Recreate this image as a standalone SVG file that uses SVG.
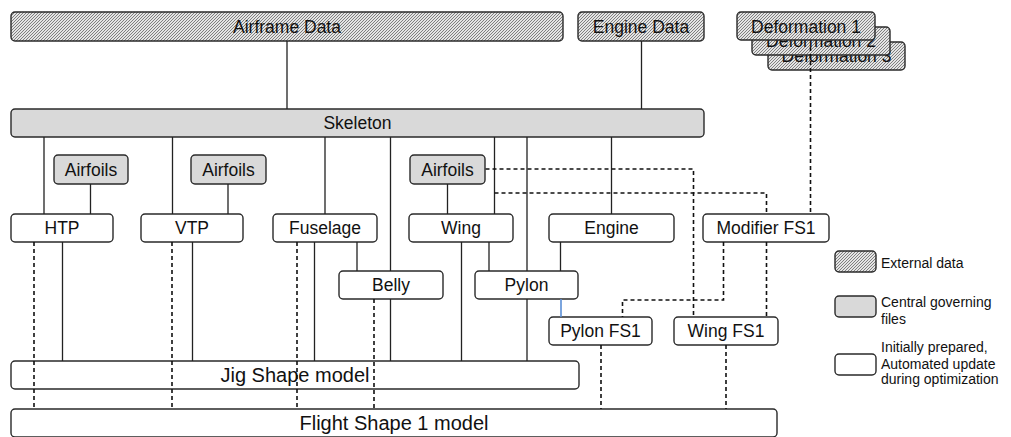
<svg xmlns="http://www.w3.org/2000/svg" width="1011" height="437" viewBox="0 0 1011 437">
<defs>
<pattern id="hatch" patternUnits="userSpaceOnUse" width="3" height="3">
<rect width="3" height="3" fill="#e4e4e4"/>
<path d="M-1,1 L1,-1 M0,3 L3,0 M2,4 L4,2" stroke="#666" stroke-width="0.8"/>
</pattern>
<style>
.box{stroke:#2a2a2a;stroke-width:1.4}
.ext{fill:url(#hatch)}
.gov{fill:#d9d9d9}
.std{fill:#fff}
text{font-family:"Liberation Sans",Arial,sans-serif;font-size:17.5px;fill:#111;text-anchor:middle}
.big{font-size:20px}
.leg{font-size:14px;text-anchor:start}
.ln{fill:none;stroke:#222;stroke-width:1.3}
.dash{fill:none;stroke:#111;stroke-width:1.6;stroke-dasharray:4,3}
.blue{fill:none;stroke:#5b8fd6;stroke-width:1.6}
</style>
</defs>
<g id="airframe-data"><rect class="box ext" x="11" y="12" width="552" height="29" rx="4"/><text x="287" y="32.5">Airframe Data</text></g>
<g id="engine-data"><rect class="box ext" x="578" y="12" width="126" height="29" rx="4"/><text x="641" y="32.5">Engine Data</text></g>
<g id="deformation-3"><rect class="box ext" x="768" y="42" width="137" height="28" rx="4"/><text x="836.5" y="62">Deformation 3</text></g>
<g id="deformation-2"><rect class="box ext" x="752" y="27" width="138" height="28" rx="4"/><text x="821" y="47">Deformation 2</text></g>
<g id="deformation-1"><rect class="box ext" x="737" y="12" width="138" height="28" rx="4"/><text x="806" y="32.5">Deformation 1</text></g>
<g id="skeleton"><rect class="box gov" x="11" y="109" width="693" height="28" rx="4"/><text x="357.5" y="129">Skeleton</text></g>
<g id="airfoils-htp"><rect class="box gov" x="54" y="155" width="74" height="29" rx="4"/><text x="91" y="175.5">Airfoils</text></g>
<g id="airfoils-vtp"><rect class="box gov" x="191" y="155" width="75" height="29" rx="4"/><text x="228.5" y="175.5">Airfoils</text></g>
<g id="airfoils-wing"><rect class="box gov" x="410" y="155" width="75" height="29" rx="4"/><text x="447.5" y="175.5">Airfoils</text></g>
<g id="htp"><rect class="box std" x="11" y="214" width="102" height="28" rx="4"/><text x="62" y="234.3">HTP</text></g>
<g id="vtp"><rect class="box std" x="141" y="214" width="102" height="28" rx="4"/><text x="192" y="234.3">VTP</text></g>
<g id="fuselage"><rect class="box std" x="273" y="214" width="104" height="28" rx="4"/><text x="325" y="234.3">Fuselage</text></g>
<g id="wing"><rect class="box std" x="409" y="214" width="104" height="28" rx="4"/><text x="461" y="234.3">Wing</text></g>
<g id="engine"><rect class="box std" x="549" y="214" width="125" height="28" rx="4"/><text x="611.5" y="234.3">Engine</text></g>
<g id="modifier-fs1"><rect class="box std" x="703" y="214" width="126" height="28" rx="4"/><text x="766" y="234.3">Modifier FS1</text></g>
<g id="belly"><rect class="box std" x="339" y="271" width="104" height="28" rx="4"/><text x="391" y="291.3">Belly</text></g>
<g id="pylon"><rect class="box std" x="475" y="271" width="103" height="28" rx="4"/><text x="526.5" y="291.3">Pylon</text></g>
<g id="pylon-fs1"><rect class="box std" x="549" y="317" width="103" height="28" rx="4"/><text x="600.5" y="337.3">Pylon FS1</text></g>
<g id="wing-fs1"><rect class="box std" x="674" y="317" width="104" height="28" rx="4"/><text x="726" y="337.3">Wing FS1</text></g>
<g id="jig-shape-model"><rect class="box std" x="11" y="361" width="568" height="28" rx="4"/><text class="big" x="295" y="382.2">Jig Shape model</text></g>
<g id="flight-shape-1-model"><rect class="box std" x="11" y="409" width="766" height="28" rx="4"/><text class="big" x="394" y="430">Flight Shape 1 model</text></g>
<g id="legend">
<rect class="box ext" x="835" y="251" width="41" height="21" rx="4"/><text class="leg" x="881" y="267.5">External data</text>
<rect class="box gov" x="835" y="296" width="41" height="21" rx="4"/><text class="leg" x="881" y="306.5">Central governing</text><text class="leg" x="881" y="323.5">files</text>
<rect class="box std" x="835" y="354" width="41" height="21" rx="4"/><text class="leg" x="881" y="352">Initially prepared,</text><text class="leg" x="881" y="368.5">Automated update</text><text class="leg" x="881" y="384">during optimization</text>
</g>
<g id="connectors">
<path class="ln" d="M287,41V109M641.5,41V109M44,137V214M90.5,184V214M172.5,137V214M228,184V214M325,137V214M390.5,137V271M357,242V271M494.5,137V214M447.5,184V214M527,137V271M611.5,137V214M489,242V271M560.5,242V271M62.5,242V361M192.5,242V361M314.5,242V361M390.5,299V361M461.5,242V361M527,299V361"/>
<path class="blue" d="M561,299V317"/>
<path class="dash" d="M34,242V409M172,242V409M297,242V409M374,299V409M601,345V409M726,345V409M810.5,47V214"/>
<path class="dash" d="M485.5,169H693.5V317"/>
<path class="dash" d="M494.5,193H766.5V214"/>
<path class="dash" d="M723.5,242V300H622.5V317"/>
<path class="dash" d="M766.5,242V317"/>
</g>
</svg>
